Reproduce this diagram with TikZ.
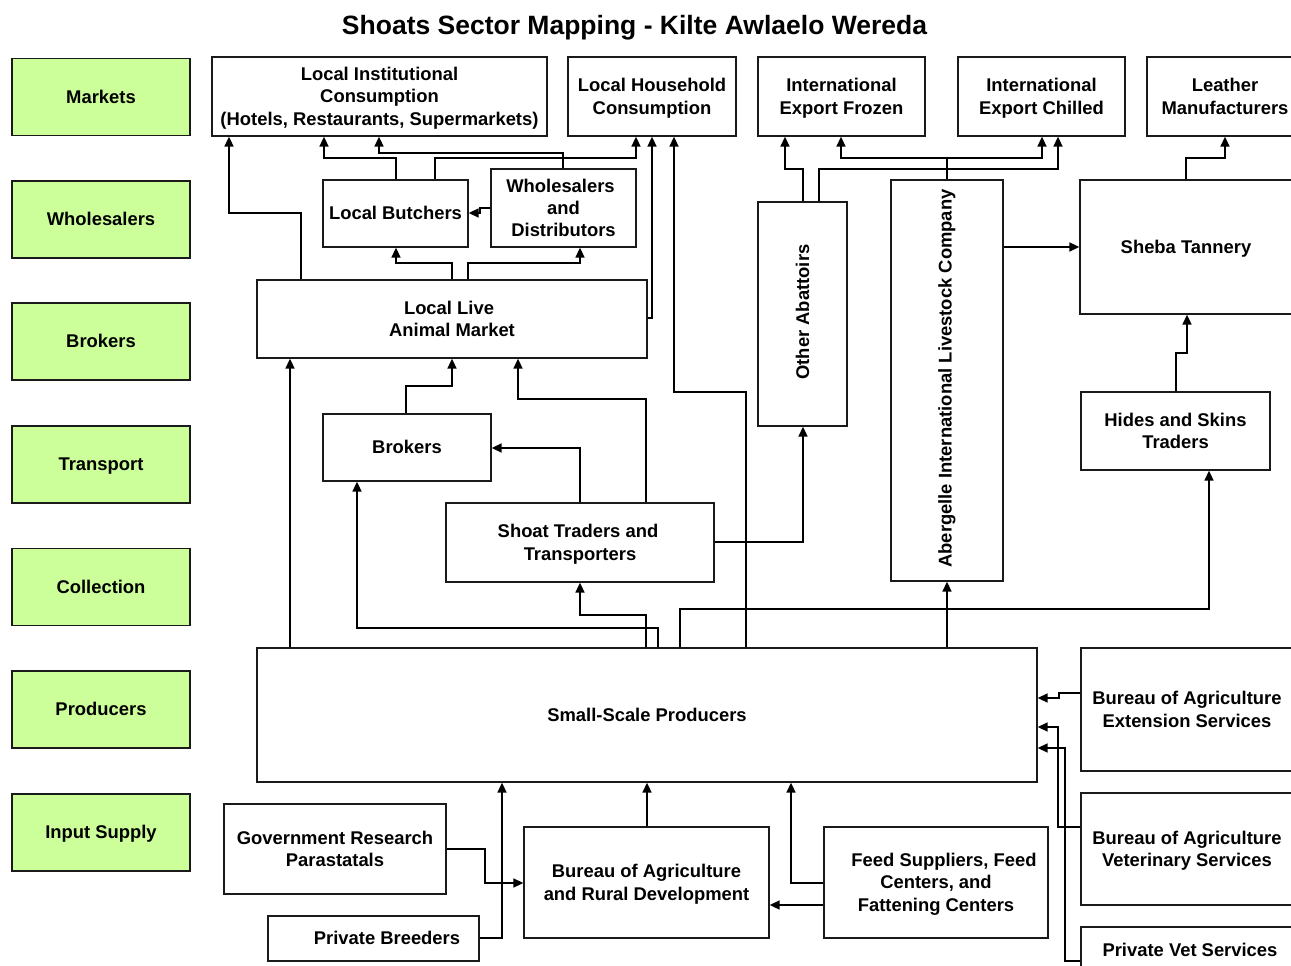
\documentclass[tikz,border=0pt]{standalone}
\usepackage{fontspec}
\setmainfont{Liberation Sans}
\usetikzlibrary{arrows.meta}
\definecolor{stagegreen}{HTML}{CCFF99}
\definecolor{edge}{HTML}{1A1A1A}
% line strut with the font's ascent and descent
\newcommand\linestrut{\rule[-3.9pt]{0pt}{20.6pt}}
\begin{document}
\begin{tikzpicture}[x=1pt,y=-1pt,
  every node/.style={font=\fontsize{18.4}{22.2}\selectfont\bfseries, align=center, inner sep=0pt,
    execute at begin node=\linestrut, execute at end node=\linestrut},
  box/.style={draw=edge, line width=1.3pt, fill=white},
  stage/.style={box, fill=stagegreen, minimum width=178pt, minimum height=77pt},
  flow/.style={line width=1.6pt, -{Triangle[length=10pt,width=9pt]}}]
\useasboundingbox (0,0) rectangle (1291,966);
\clip (0,0) rectangle (1291,966);

% title
\node[font=\fontsize{26.5}{30}\selectfont\bfseries] (title) at (634.5,28) {Shoats Sector Mapping - Kilte Awlaelo Wereda};

% stage column
\node[stage] (sMarkets)  at (101,97)    {Markets};
\node[stage] (sWhole)    at (101,219.5) {Wholesalers};
\node[stage] (sBrokers)  at (101,341.5) {Brokers};
\node[stage] (sTrans)    at (101,464.5) {Transport};
\node[stage] (sColl)     at (101,587)   {Collection};
\node[stage] (sProd)     at (101,709.5) {Producers};
\node[stage] (sInput)    at (101,832.5) {Input Supply};

% markets row
\node[box, minimum width=335pt, minimum height=79pt] (lic) at (379.5,96.5) {\linestrut Local Institutional\\Consumption\\(Hotels, Restaurants, Supermarkets)\linestrut};
\node[box, minimum width=168pt, minimum height=79pt] (lhc) at (652,96.5) {\linestrut Local Household\\Consumption\linestrut};
\node[box, minimum width=167pt, minimum height=79pt] (ief) at (841.5,96.5) {\linestrut International\\Export Frozen\linestrut};
\node[box, minimum width=167pt, minimum height=79pt] (iec) at (1041.5,96.5) {\linestrut International\\Export Chilled\linestrut};
\node[box, minimum width=156pt, minimum height=79pt] (lm)  at (1225,96.5) {\linestrut Leather\\Manufacturers\linestrut};

% wholesale / processing
\node[box, minimum width=145pt, minimum height=67pt] (lb) at (395.5,213.5) {Local Butchers};
\node[box, minimum width=145pt, minimum height=78pt] (wd) at (563.5,208) {\linestrut Wholesalers\hspace*{6pt}\\and\\Distributors\linestrut};
\node[box, minimum width=89pt, minimum height=224pt] (oa) at (802.5,314) {\rotatebox{90}{Other Abattoirs}};
\node[box, minimum width=112pt, minimum height=401pt] (ab) at (947,380.5) {\rotatebox{90}{Abergelle International Livestock Company}};
\node[box, minimum width=212pt, minimum height=134pt] (st) at (1186,247) {Sheba Tannery};

% brokers / transport
\node[box, minimum width=390pt, minimum height=78pt] (llam) at (452,319) {\linestrut Local Live\hspace*{6pt}\\Animal Market\linestrut};
\node[box, minimum width=168pt, minimum height=67pt] (br) at (407,447.5) {Brokers};
\node[box, minimum width=189pt, minimum height=78pt] (hs) at (1175.5,431) {\linestrut Hides and Skins\\Traders\linestrut};
\node[box, minimum width=268pt, minimum height=79pt] (sht) at (580,542.5) {\linestrut Shoat Traders and\hspace*{4pt}\\Transporters\linestrut};

% producers and inputs
\node[box, minimum width=780pt, minimum height=134pt] (ssp) at (647,715) {Small-Scale Producers};
\node[box, minimum width=212pt, minimum height=123pt] (ext) at (1187,709.5) {\linestrut Bureau of Agriculture\\Extension Services\linestrut};
\node[box, minimum width=212pt, minimum height=112pt] (vet) at (1187,849) {\linestrut Bureau of Agriculture\\Veterinary Services\linestrut};
\node[box, minimum width=218pt, minimum height=46pt] (pvs) at (1190,950) {Private Vet Services};
\node[box, minimum width=222pt, minimum height=90pt] (grp) at (335,849) {\linestrut Government Research\\Parastatals\linestrut};
\node[box, minimum width=211pt, minimum height=45pt] (pb) at (373.5,938.5) {\hspace*{27pt}Private Breeders};
\node[box, minimum width=245pt, minimum height=111pt] (bard) at (646.5,882.5) {\linestrut Bureau of Agriculture\\and Rural Development\linestrut};
\node[box, minimum width=224pt, minimum height=111pt] (fs) at (936,882.5) {\linestrut\hspace*{16pt}Feed Suppliers, Feed\\Centers, and\\Fattening Centers\linestrut};

% flows into local consumption
\draw[flow] (llam.north -| 301,0) -- (301,213) -- (229,213) -- (lic.south -| 229,0);
\draw[flow] (lb.north -| 396,0) -- (396,158) -- (324,158) -- (lic.south -| 324,0);
\draw[flow] (wd.north -| 563,0) -- (563,153) -- (379,153) -- (lic.south -| 379,0);
\draw[flow] (lb.north -| 435,0) -- (435,158) -- (636,158) -- (lhc.south -| 636,0);
\draw[flow] (llam.east |- 0,318) -- (652,318) -- (lhc.south -| 652,0);
\draw[flow] (ssp.north -| 746,0) -- (746,392) -- (674,392) -- (lhc.south -| 674,0);

% wholesale level
\draw[flow] (wd.west |- 0,208) -- (480,208) -- (480,213) -- (lb.east |- 0,213);
\draw[flow] (llam.north -| 452,0) -- (452,263) -- (396,263) -- (lb.south -| 396,0);
\draw[flow] (llam.north -| 468,0) -- (468,263) -- (580,263) -- (wd.south -| 580,0);

% into the live animal market
\draw[flow] (ssp.north -| 290,0) -- (llam.south -| 290,0);
\draw[flow] (br.north -| 406,0) -- (406,386) -- (452,386) -- (llam.south -| 452,0);
\draw[flow] (sht.north -| 646,0) -- (646,399) -- (518,399) -- (llam.south -| 518,0);
\draw[flow] (sht.north -| 580,0) -- (580,448) -- (br.east |- 0,448);

% traders and producers outward
\draw[flow] (sht.east |- 0,542) -- (803,542) -- (oa.south -| 803,0);
\draw[flow] (ssp.north -| 646,0) -- (646,615) -- (580,615) -- (sht.south -| 580,0);
\draw[flow] (ssp.north -| 658,0) -- (658,628) -- (357,628) -- (br.south -| 357,0);
\draw[flow] (ssp.north -| 680,0) -- (680,609) -- (1209,609) -- (hs.south -| 1209,0);
\draw[flow] (ssp.north -| 947,0) -- (ab.south);

% export and leather chain
\draw[flow] (oa.north -| 803,0) -- (803,169) -- (785,169) -- (ief.south -| 785,0);
\draw[flow] (oa.north -| 819,0) -- (819,169) -- (1058,169) -- (iec.south -| 1058,0);
\draw[flow] (ab.north) -- (947,158) -- (841,158) -- (ief.south -| 841,0);
\draw[flow] (947,158) -- (1042,158) -- (iec.south -| 1042,0);
\draw[flow] (ab.east |- 0,247) -- (st.west |- 0,247);
\draw[flow] (st.north -| 1186,0) -- (1186,158) -- (1225,158) -- (lm.south -| 1225,0);
\draw[flow] (hs.north -| 1176,0) -- (1176,353) -- (1187,353) -- (st.south -| 1187,0);

% input supply
\draw[flow] (grp.east |- 0,849) -- (485,849) -- (485,883) -- (bard.west |- 0,883);
\draw[flow] (pb.east |- 0,938) -- (502,938) -- (ssp.south -| 502,0);
\draw[flow] (bard.north -| 647,0) -- (ssp.south -| 647,0);
\draw[flow] (fs.west |- 0,883) -- (791,883) -- (ssp.south -| 791,0);
\draw[flow] (fs.west |- 0,905) -- (bard.east |- 0,905);
\draw[flow] (ext.west |- 0,693) -- (1059,693) -- (1059,698) -- (ssp.east |- 0,698);
\draw[flow] (vet.west |- 0,827) -- (1058,827) -- (1058,727) -- (ssp.east |- 0,727);
\draw[flow] (pvs.west |- 0,961) -- (1065,961) -- (1065,748) -- (ssp.east |- 0,748);
\end{tikzpicture}
\end{document}
